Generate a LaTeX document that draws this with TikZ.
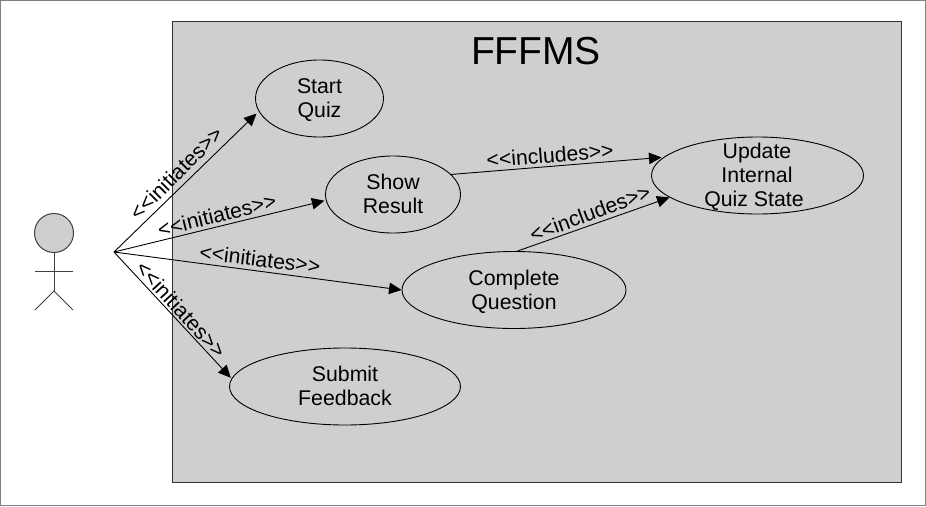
\documentclass[tikz,border=0pt]{standalone}
\usepackage{fontspec}
\setmainfont{Liberation Sans}
\usetikzlibrary{shapes.geometric,arrows.meta}
\newcommand{\opn}{<{}<}
\newcommand{\cls}{>{}>}
\newcommand{\firststrut}{\rule{0pt}{21pt}}
\tikzset{
  usecase/.style={ellipse,draw=black,line width=0.9pt,inner sep=0pt,align=center,font=\fontsize{21.3}{24}\selectfont},
  conn/.style={draw=black,line width=0.9pt,-{Triangle[length=12.5pt,width=11.5pt]}},
  lbl/.style={font=\fontsize{21.2}{24}\selectfont,inner sep=0pt},
  stick/.style={draw=black!75,line width=1pt}
}
\begin{document}
\begin{tikzpicture}[x=1pt,y=-1pt]
\useasboundingbox (0,0) rectangle (926,506);
\draw[draw=black!50,fill=white,line width=1pt] (0.5,0.5) rectangle (925.5,505.5);
\node[draw=black!80,fill=black!19,line width=1pt,minimum width=729pt,minimum height=461pt,inner sep=0pt] (system) at (536.5,251.8) {};
\node[font=\fontsize{39}{44}\selectfont,inner sep=0pt] (title) at (536,51) {FFFMS};
% actor
\node[circle,draw=black!75,fill=black!19,line width=1pt,minimum size=39pt,inner sep=0pt] (head) at (54,233) {};
\coordinate (hip) at (54,291);
\coordinate (arml) at (35,271);
\coordinate (armr) at (73,271);
\coordinate (legl) at (35,310);
\coordinate (legr) at (73,310);
\coordinate (src) at (114,252);
\draw[stick] (head.south) -- (hip);
\draw[stick] (arml) -- (armr);
\draw[stick] (legl) -- (hip) -- (legr);
% use cases
\node[usecase,minimum width=128pt,minimum height=77pt] (start) at (319.5,98.5) {\firststrut Start\\\strut Quiz};
\node[usecase,minimum width=135pt,minimum height=77pt] (show) at (393,194.5) {\firststrut Show\\\strut Result};
\node[usecase,minimum width=224pt,minimum height=77pt] (complete) at (514,290) {\rule{0pt}{23pt}Complete\\\strut Question};
\node[usecase,minimum width=231pt,minimum height=77pt] (submit) at (345,386.5) {\firststrut Submit\\\strut Feedback};
\node[usecase,minimum width=212pt,minimum height=77pt] (update) at (757.5,175.5) {};
\node[font=\fontsize{21.3}{24}\selectfont,align=center,inner sep=0pt] (updatetext) at (757,178) {\strut Update\\\strut Internal\\\strut Quiz State\hspace*{6pt}};
% connectors
\draw[conn,shorten >=3pt] (src) -- (start.192);
\draw[conn,shorten >=1.5pt] (src) -- (show.185);
\draw[conn] (src) -- (complete.180);
\draw[conn,shorten >=1pt] (src) -- (submit.176);
\draw[conn,shorten >=2pt] (show.19) -- (update.169);
\draw[conn] (complete.85) -- (update.194);
% labels
\node[lbl,rotate=45] (l1) at (176,173) {\opn initiates\cls};
\node[lbl,rotate=14] (l2) at (217,215) {\opn initiates\cls};
\node[lbl,rotate=-7] (l3) at (260,259) {\opn initiates\cls};
\node[lbl,rotate=-47.5] (l4) at (181,309.5) {\opn initiates\cls};
\node[lbl,rotate=4.6] (l5) at (550,155) {\opn includes\cls};
\node[lbl,rotate=20.5] (l6) at (590,213) {\opn includes\cls};
\end{tikzpicture}
\end{document}
